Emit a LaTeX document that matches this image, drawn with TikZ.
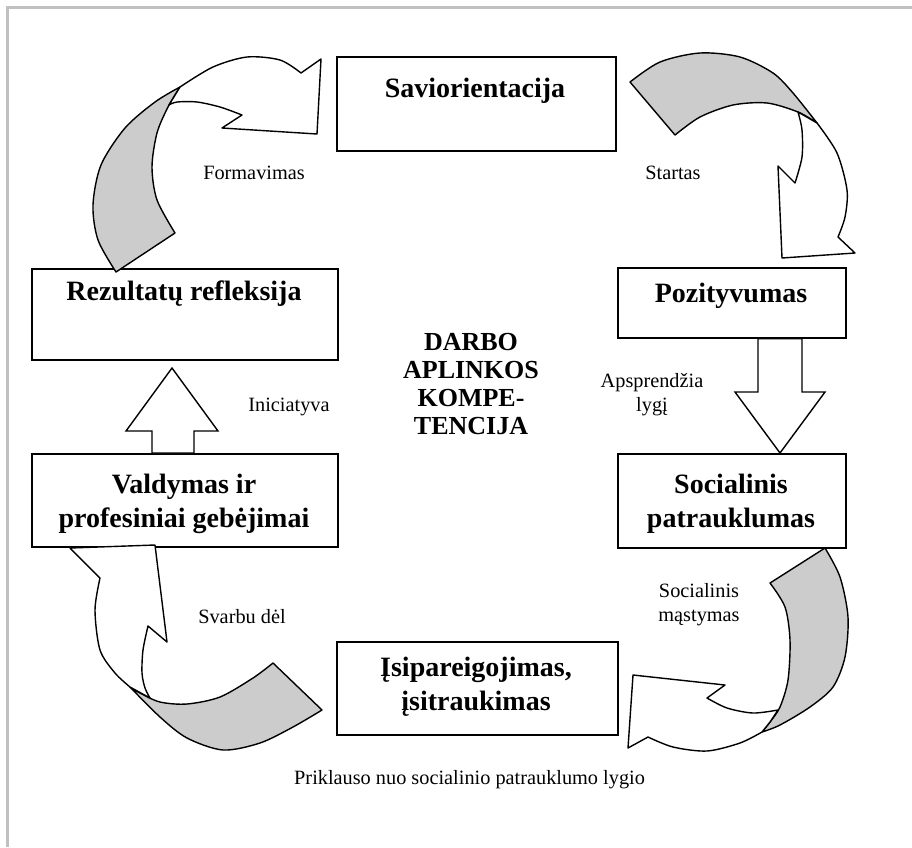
\documentclass[tikz,border=0pt]{standalone}
\usepackage{fontspec}
\setmainfont{Liberation Serif}
\definecolor{framegray}{HTML}{C0C0C0}
\definecolor{backgray}{HTML}{CCCCCC}
\begin{document}
\begin{tikzpicture}[x=1pt,y=-1pt,
  box/.style={draw, line width=1.6pt, inner sep=0pt, anchor=north west},
  title/.style={font=\fontsize{28}{34}\selectfont\bfseries, align=center, anchor=base, inner sep=0pt},
  lbl/.style={font=\fontsize{20.3}{24}\selectfont, align=center, inner sep=0pt},
  band/.style={draw, line width=1.4pt, line join=round},
  blockarrow/.style={draw, line width=1.4pt, line join=miter, fill=white},
]
\useasboundingbox (0,0) rectangle (912,847);
% page frame
\draw[line width=3pt, framegray] (7.5,847) -- (7.5,7.5) -- (912,7.5);

% boxes
\node[box, minimum width=279pt, minimum height=94pt] (savi) at (336,56) {};
\node[box, minimum width=306pt, minimum height=91pt] (refl) at (31,268) {};
\node[box, minimum width=228pt, minimum height=70pt] (pozi) at (617,267) {};
\node[box, minimum width=306pt, minimum height=93pt] (vald) at (31,453) {};
\node[box, minimum width=228pt, minimum height=94pt] (soci) at (617,453) {};
\node[box, minimum width=281pt, minimum height=93pt] (isip) at (336,641) {};

% box titles (multi-line titles are placed by the baseline of their last line)
\node[title] (saviT) at (475,97) {Saviorientacija};
\node[title] (reflT) at (184,300) {Rezultatų refleksija};
\node[title] (poziT) at (731,302) {Pozityvumas};
\node[title] (valdT) at (184,527) {Valdymas ir\\profesiniai gebėjimai};
\node[title] (sociT) at (731,527) {Socialinis\\patrauklumas};
\node[title] (isipT) at (476,710) {Įsipareigojimas,\\įsitraukimas};

% central caption
\node[font=\fontsize{26}{28}\selectfont\bfseries, align=center, inner sep=0pt] (core) at (471,384)
  {DARBO\\APLINKOS\\KOMPE-\\TENCIJA};

% curved arrow: Rezultatų refleksija -> Saviorientacija
\filldraw[band, fill=backgray]
  plot[smooth] coordinates {(116,272) (98,240) (93,205) (101,165) (125,128) (155,102) (180,87)}
  -- plot[smooth] coordinates {(180,87) (168,107) (157,133) (152,167) (157,200) (175,233)}
  -- cycle;
\filldraw[band, fill=white]
  plot[smooth] coordinates {(180,87) (213,67) (247,57) (280,60) (301,73)}
  -- (321,59) -- (317,134) -- (222,128) -- (242,115)
  -- plot[smooth] coordinates {(242,115) (220,107) (197,102) (177,102) (169,105)}
  -- cycle;

% curved arrow: Saviorientacija -> Pozityvumas
\filldraw[band, fill=backgray]
  plot[smooth] coordinates {(630,82) (660,62) (700,53) (740,57) (773,73) (793,93) (817,123)}
  -- plot[smooth] coordinates {(817,123) (798,112) (767,103) (733,105) (700,117) (675,135)}
  -- cycle;
\filldraw[band, fill=white]
  plot[smooth] coordinates {(817,123) (837,153) (847,190) (845,217) (838,237)}
  -- (855,253) -- (782,258) -- (778,166) -- (795,183)
  -- plot[smooth] coordinates {(795,183) (802,157) (802,130) (798,112)}
  -- cycle;

% curved arrow: Socialinis patrauklumas -> Įsipareigojimas
\filldraw[band, fill=backgray]
  plot[smooth] coordinates {(825,548) (840,577) (848,617) (845,657) (833,687) (810,707) (780,725) (762,732)}
  -- plot[smooth] coordinates {(762,732) (770,722) (780,707) (788,680) (790,640) (785,607) (770,583)}
  -- cycle;
\filldraw[band, fill=white]
  plot[smooth] coordinates {(762,732) (740,743) (707,751) (673,747) (648,737)}
  -- (628,748) -- (633,675) -- (725,685) -- (707,698)
  -- plot[smooth] coordinates {(707,698) (727,708) (753,713) (778,710)}
  -- (770,722) -- cycle;

% curved arrow: Įsipareigojimas -> Valdymas ir profesiniai gebėjimai
\filldraw[band, fill=backgray]
  plot[smooth] coordinates {(130,687) (160,717) (187,738) (223,750) (260,743) (293,727) (322,710)}
  -- (273,663)
  -- plot[smooth] coordinates {(273,663) (253,678) (220,697) (187,704) (160,702) (140,693) (130,687)}
  -- cycle;
\filldraw[band, fill=white]
  (70,548) -- (100,578)
  -- plot[smooth] coordinates {(100,578) (95,610) (100,650) (115,673) (130,687)}
  -- (150,698)
  -- plot[smooth] coordinates {(150,698) (145,688) (142,673) (143,650) (148,626)}
  -- (167,642) -- (155,545) -- cycle;

% straight block arrows
\draw[blockarrow] (vald.north west -| 152,0) -- (152,431) -- (126,431) -- (172,368) -- (218,431)
  -- (194,431) -- (vald.north west -| 194,0) -- cycle;
\draw[blockarrow] (pozi.south west -| 758,0) -- (758,392) -- (735,392) -- (780,453) -- (825,392)
  -- (802,392) -- (pozi.south west -| 802,0) -- cycle;

% arrow labels
\node[lbl] (formav) at (254,173) {Formavimas};
\node[lbl] (startas) at (673,173) {Startas};
\node[lbl] (inic) at (289,407) {Iniciatyva};
\node[lbl] (apspr) at (652,395) {Apsprendžia\\lygį};
\node[lbl] (svarbu) at (242,617) {Svarbu dėl};
\node[lbl] (socmast) at (699,605) {Socialinis\\mąstymas};
\node[lbl, anchor=west] (prikl) at (294,780) {Priklauso nuo socialinio patrauklumo lygio};
\end{tikzpicture}
\end{document}
